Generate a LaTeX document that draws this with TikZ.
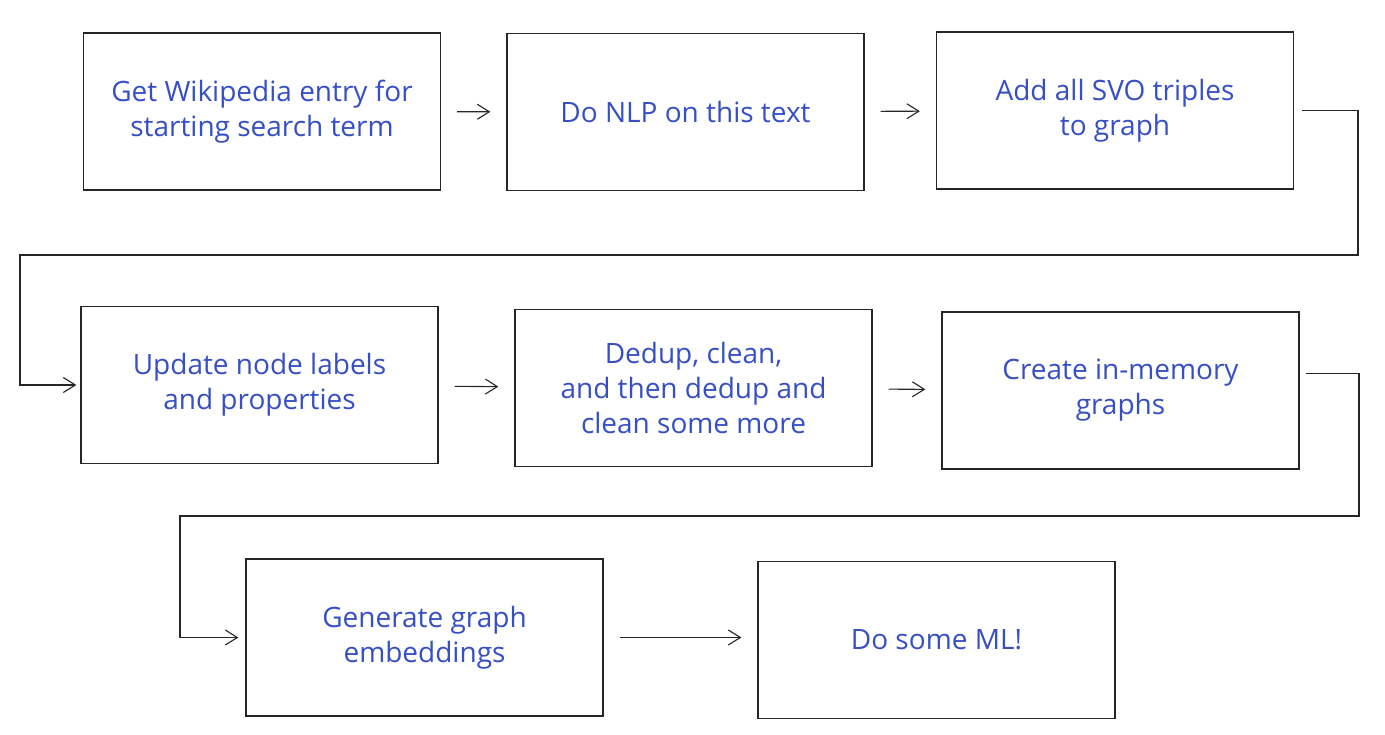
\documentclass[tikz,border=0pt]{standalone}
\usepackage{xcolor}
\usepackage{fontspec}
\setmainfont{Open Sans}
\usepackage{tikz}
\usetikzlibrary{arrows.meta, positioning}
\definecolor{inkblue}{HTML}{364FC7}
\definecolor{pencil}{HTML}{262626}

\begin{document}
\begin{tikzpicture}[x=1pt, y=-1pt, >={Straight Barb[length=12pt, width=15pt]},
  stage/.style={draw=pencil, line width=1.3pt, rectangle, minimum width=357pt,
    minimum height=157pt, inner sep=0pt, align=center, text=inkblue,
    font=\fontsize{28}{35}\selectfont},
  flow/.style={->, draw=pencil, line width=1.1pt, shorten <=16pt, shorten >=16pt}]
  % page frame (reference margins)
  \fill[white] (0,0) rectangle (1385,735);
  \useasboundingbox (0,0) rectangle (1385,735);
  % first row
  \node[stage] (wiki) at (262, 111.5) {Get Wikipedia entry for\\starting search term};
  \node[stage] (nlp) at (685.5, 112) {Do NLP on this text};
  \node[stage] (svo) at (1115, 110.5) {Add all SVO triples\\to graph};
  % second row
  \node[stage] (labels) at (259.5, 385) {Update node labels\\and properties};
  \node[stage] (dedup) at (693.5, 388) {Dedup, clean,\\and then dedup and\\clean some more};
  \node[stage] (inmem) at (1120.5, 390.5) {Create in-memory\\graphs};
  % third row
  \node[stage] (embed) at (424.5, 637.5) {Generate graph\\embeddings};
  \node[stage] (ml) at (936.5, 640) {Do some ML!};
  % short arrows inside a row
  \draw[flow] (wiki) -- (nlp);
  \draw[flow] (nlp) -- (svo);
  \draw[flow] (labels) -- (dedup);
  \draw[flow] (dedup) -- (inmem);
  \draw[flow] (embed) -- (embed -| ml.west);
  % elbow from the end of row one to the start of row two
  \coordinate (wrapA) at (1358, 255);
  \coordinate (wrapB) at (20, 255);
  \draw[->, draw=pencil, line width=1.1pt, shorten <=8pt, shorten >=4pt]
    (svo.east) -| (wrapA) -- (wrapB) |- (labels.west);
  % elbow from the end of row two to the start of row three
  \coordinate (outC) at ([yshift=17pt]inmem.east);
  \coordinate (wrapC) at (1359, 516);
  \coordinate (wrapD) at (180, 516);
  \draw[->, draw=pencil, line width=1.1pt, shorten <=6pt, shorten >=7pt]
    (outC) -| (wrapC) -- (wrapD) |- (embed.west);
\end{tikzpicture}
\end{document}
